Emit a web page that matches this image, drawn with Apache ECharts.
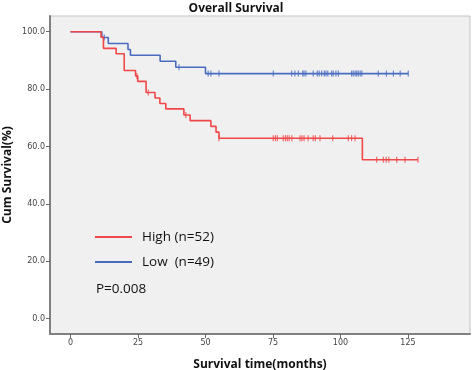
<!DOCTYPE html>
<html>
<head>
<meta charset="utf-8">
<script src="https://cdn.jsdelivr.net/npm/echarts@6/dist/echarts.min.js"></script>
<style>
html,body{margin:0;padding:0;background:#fff;}
#chart{width:472px;height:370px;}
</style>
</head>
<body>
<div id="chart"></div>
<script>
// ---- Data ----
var seriesNames = ['High (n=52)', 'Low  (n=49)'];
var xTicks = [0, 25, 50, 75, 100, 125];
var yTicks = [0, 20, 40, 60, 80, 100];

// High group: event times (months) and cumulative survival (%) after each step
var highTimes = [0, 11.3, 12.2, 16.9, 19.9, 24.1, 24.9, 28.0, 31.3, 33.1, 35.3, 42.0, 44.3, 52.0, 53.9, 55.0, 108.1, 128.7];
var highSurv  = [100, 98.1, 94.2, 92.3, 86.5, 84.6, 82.7, 78.8, 76.9, 75.0, 73.1, 71.0, 69.0, 67.0, 65.0, 62.9, 55.4, 55.4];
var highCensor = [24.6, 28.8, 42.7, 55.0, 75.1, 75.9, 76.6, 78.8, 79.6, 80.3, 81.0, 82.0, 85.0, 85.7, 86.5, 88.0, 89.9, 90.7, 92.4, 97.1, 102.9, 104.1, 105.4, 113.4, 115.9, 116.9, 117.9, 120.8, 123.9, 128.7];

// Low group
var lowTimes = [0, 11.6, 14.0, 21.3, 22.2, 33.2, 39.0, 50.0, 125.1];
var lowSurv  = [100, 98.0, 95.9, 93.8, 91.8, 89.7, 87.6, 85.4, 85.4];
var lowCensor = [12.5, 40.2, 51.0, 52.0, 55.0, 75.1, 81.9, 83.1, 84.4, 86.0, 86.5, 87.2, 89.9, 91.4, 92.1, 93.0, 94.0, 94.6, 95.3, 96.7, 97.3, 98.3, 99.2, 104.1, 104.7, 105.4, 106.0, 106.6, 107.3, 107.9, 114.0, 117.0, 119.6, 122.1, 125.1];

var pValueText = 'P=0.008';

// ---- Build ----
var RED = '#f04848';
var BLUE = '#4a6cc0';
function pairs(t, s) { return t.map(function (v, i) { return [v, s[i]]; }); }
function survAt(t, s, x) {
  var v = s[0];
  for (var i = 0; i < t.length; i++) { if (t[i] <= x) v = s[i]; }
  return v;
}
function censorPts(t, s, c) { return c.map(function (x) { return [x, survAt(t, s, x)]; }); }

var chart = echarts.init(document.getElementById('chart'), null, {renderer: 'canvas'});
chart.setOption({
  animation: false,
  backgroundColor: '#ffffff',
  title: {
    text: 'Overall Survival',
    left: 'center',
    top: -2,
    textStyle: {fontFamily: 'Open Sans', fontWeight: 'bold', fontSize: 12, color: '#111'}
  },
  grid: {
    left: 50, right: 2, top: 16, bottom: 36,
    containLabel: false, outerBoundsMode: 'none',
    show: true, backgroundColor: '#f0f0f0', borderColor: '#c4c4c4', borderWidth: 1
  },
  legend: {
    data: seriesNames,
    orient: 'vertical',
    left: 90, top: 224,
    itemWidth: 37, itemHeight: 2, itemGap: 9,
    icon: 'rect',
    textStyle: {fontFamily: 'Open Sans', fontSize: 13.5, color: '#111', lineHeight: 16, padding: [0, 0, 0, 5]}
  },
  graphic: [{
    type: 'text', left: 96, top: 282,
    style: {text: pValueText, font: '13.5px "Open Sans"', fill: '#111'}
  }],
  xAxis: {
    type: 'value', min: -7.59, max: 147.96,
    name: 'Survival time(months)', nameLocation: 'middle', nameGap: 25, nameMoveOverlap: false,
    nameTextStyle: {fontFamily: 'Open Sans', fontWeight: 'bold', fontSize: 12, color: '#111'},
    axisLine: {show: true, onZero: false, lineStyle: {color: '#808080', width: 2}},
    axisTick: {show: true, length: 4, customValues: xTicks, lineStyle: {color: '#666'}},
    axisLabel: {customValues: xTicks, fontFamily: 'DejaVu Sans', fontSize: 8, color: '#444', margin: 5},
    splitLine: {show: false}
  },
  yAxis: {
    type: 'value', min: -5.33, max: 105.47,
    name: 'Cum Survival(%)', nameLocation: 'middle', nameGap: 36, nameRotate: 90, nameMoveOverlap: false,
    nameTextStyle: {fontFamily: 'Open Sans', fontWeight: 'bold', fontSize: 12, color: '#111'},
    axisLine: {show: true, onZero: false, lineStyle: {color: '#808080', width: 2}},
    axisTick: {show: true, length: 4, customValues: yTicks, lineStyle: {color: '#666'}},
    axisLabel: {customValues: yTicks, fontFamily: 'DejaVu Sans', fontSize: 8, color: '#444', margin: 5,
      formatter: function (v) { return v.toFixed(1); }},
    splitLine: {show: false}
  },
  series: [
    {name: seriesNames[1], type: 'line', step: 'end', showSymbol: false, color: BLUE,
     lineStyle: {color: BLUE, width: 1.6}, data: pairs(lowTimes, lowSurv), z: 2},
    {name: seriesNames[0], type: 'line', step: 'end', showSymbol: false, color: RED,
     lineStyle: {color: RED, width: 1.6}, data: pairs(highTimes, highSurv), z: 3},
    {name: 'lowCensor', type: 'scatter', symbol: 'rect', symbolSize: [1.2, 6], itemStyle: {color: BLUE},
     data: censorPts(lowTimes, lowSurv, lowCensor), z: 2},
    {name: 'highCensor', type: 'scatter', symbol: 'rect', symbolSize: [1.2, 6], itemStyle: {color: RED},
     data: censorPts(highTimes, highSurv, highCensor), z: 3}
  ]
});
</script>
</body>
</html>
